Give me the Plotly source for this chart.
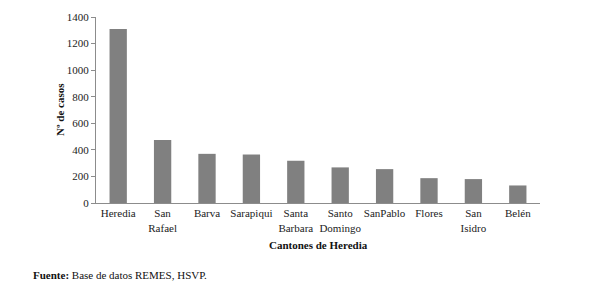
import plotly.graph_objects as go

cantones = ["Heredia", "San<br>Rafael", "Barva", "Sarapiqui", "Santa<br>Barbara",
            "Santo<br>Domingo", "SanPablo", "Flores", "San<br>Isidro", "Belén"]
casos = [1310, 475, 370, 365, 318, 268, 255, 187, 180, 132]
y_ticks = [0, 200, 400, 600, 800, 1000, 1200, 1400]

SERIF = "Liberation Serif, Times New Roman, serif"
AXIS_GREY = "#8c8c8c"

fig = go.Figure()
fig.add_trace(go.Bar(
    x=cantones, y=casos,
    marker=dict(color="#808080", line=dict(width=0)),
))

# page body has an 8px default margin, so the figure is a bit smaller than the window
fig.update_layout(
    width=581, height=282,
    margin=dict(l=88, r=49, t=9, b=87),
    paper_bgcolor="white", plot_bgcolor="white",
    bargap=0.61,
    showlegend=False,
    font=dict(family=SERIF, size=11, color="#222"),
    xaxis=dict(
        automargin=False,
        showline=True, linecolor=AXIS_GREY, linewidth=1,
        ticks="", showgrid=False,
        tickfont=dict(family=SERIF, size=11, color="#222"),
    ),
    yaxis=dict(
        automargin=False,
        range=[0, 1400], tickvals=y_ticks,
        showline=True, linecolor=AXIS_GREY, linewidth=1,
        ticks="outside", ticklen=4, tickcolor=AXIS_GREY,
        showgrid=False, zeroline=False,
        tickfont=dict(family=SERIF, size=11, color="#222"),
    ),
    annotations=[
        dict(text="<b>Nº de casos</b>", textangle=-90,
             xref="paper", yref="paper", x=0, y=0.5,
             xanchor="center", yanchor="middle", xshift=-36, showarrow=False,
             font=dict(family=SERIF, size=11, color="#111")),
        dict(text="<b>Cantones de Heredia</b>",
             xref="paper", yref="paper", x=0.5, y=0,
             xanchor="center", yanchor="middle", yshift=-42, showarrow=False,
             font=dict(family=SERIF, size=11, color="#111")),
        dict(text="<b>Fuente:</b> Base de datos REMES, HSVP.",
             xref="paper", yref="paper", x=0, y=0,
             xanchor="left", yanchor="middle", xshift=-65, yshift=-72, showarrow=False,
             font=dict(family=SERIF, size=11, color="#111")),
    ],
)

fig.write_html("out.html")
